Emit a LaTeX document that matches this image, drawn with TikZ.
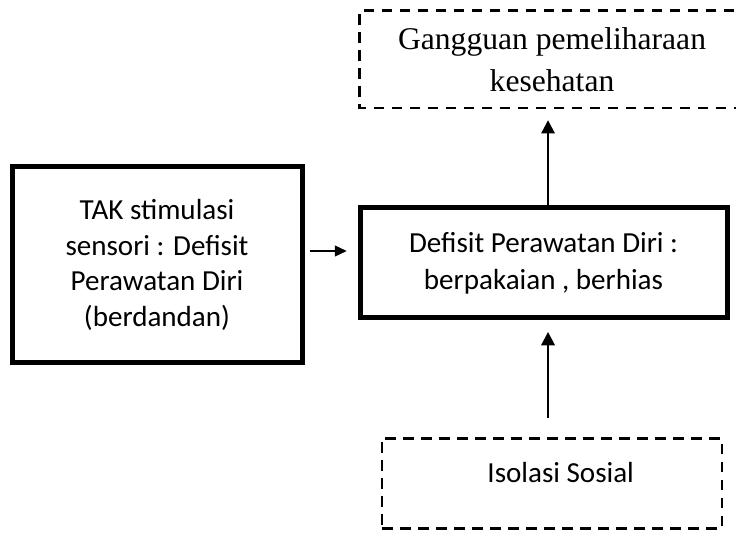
\documentclass[tikz,border=0pt]{standalone}
\usepackage{fontspec}
\setmainfont{Liberation Serif}
\setsansfont{Carlito}
\usepackage{tikz}
\usetikzlibrary{arrows.meta, positioning, calc}

\begin{document}
\begin{tikzpicture}[
    x=0.75pt, y=-0.75pt,
    mainbox/.style={
        draw=black, line width=3.75pt, fill=white,
        rectangle, inner sep=0pt, align=center,
        font=\sffamily\fontsize{21.8}{26.7}\selectfont,
    },
    dashbox/.style={
        draw=black, line width=2pt, dash pattern=on 8pt off 5.5pt,
        rectangle, inner sep=0pt, align=center,
    },
    dashline/.style={
        draw=black, line width=2pt, dash pattern=on 8pt off 5.5pt
    },
    arr/.style={
        -{Triangle[length=10pt, width=10pt]}, line width=1.8pt, draw=black
    },
    arrsmall/.style={
        -{Triangle[length=9pt, width=8pt]}, line width=1.6pt, draw=black
    },
]
\useasboundingbox (0,0) rectangle (736,538);
\clip (0,0) rectangle (736,538);

\node[mainbox, minimum width=275.25pt, minimum height=82.5pt,
      font=\sffamily\fontsize{21.8}{27.75}\selectfont] (defisit) at (543.5,263)
      {Defisit Perawatan Diri :\\berpakaian , berhias};
\node[mainbox, minimum width=217.5pt, minimum height=147pt,
      left=39.75pt of defisit, yshift=-1.5pt] (tak)
      {TAK stimulasi\\sensori : Defisit\\Perawatan Diri\\(berdandan)};
\node[rectangle, inner sep=0pt, align=center, minimum width=288pt, minimum height=72.75pt,
      font=\rmfamily\fontsize{23.7}{31.5}\selectfont,
      above=73pt of defisit, xshift=6.4pt] (gangguan)
      {Gangguan pemeliharaan\\kesehatan};
\node[dashbox, minimum width=255pt, minimum height=67.5pt,
      below=87.4pt of defisit, xshift=6.4pt,
      label={[name=isolasitext, xshift=6.5pt, yshift=8.25pt,
              font=\sffamily\fontsize{21.8}{23.25}\selectfont]center:Isolasi Sosial}] (isolasi) {};

% open on the right, cut by the page edge
\draw[dashline] ([xshift=60pt]gangguan.north east) -- (gangguan.north west)
    -- (gangguan.south west) -- ([xshift=60pt]gangguan.south east);

\coordinate (stem) at ([xshift=3.4pt]defisit.center);
\coordinate (feed) at ([yshift=10.5pt]tak.east);

\draw[arrsmall, shorten <=4pt, shorten >=8pt] (feed) -- (feed -| defisit.west);
\draw[arr, shorten >=9pt] (stem |- defisit.north) -- (stem |- gangguan.south);
\draw[arr, shorten <=14pt, shorten >=8.6pt] (stem |- isolasi.north) -- (stem |- defisit.south);
\end{tikzpicture}
\end{document}
